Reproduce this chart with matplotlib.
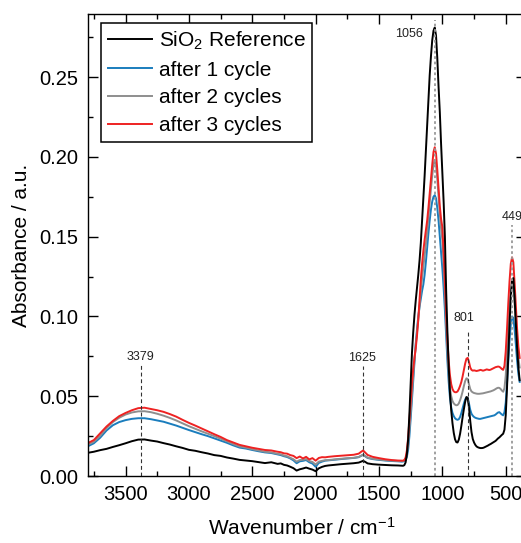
import numpy as np
import matplotlib
matplotlib.use("Agg")
import matplotlib.pyplot as plt
from matplotlib.ticker import MultipleLocator, FormatStrFormatter

plt.rcParams['font.family'] = ['Liberation Sans', 'DejaVu Sans']
plt.rcParams['mathtext.fontset'] = 'custom'
plt.rcParams['mathtext.rm'] = 'Liberation Sans'
plt.rcParams['mathtext.it'] = 'Liberation Sans:italic'
plt.rcParams['mathtext.default'] = 'regular'

# ---------------- data ----------------
wn_broad = [3800, 3750, 3700, 3650, 3600, 3550, 3500, 3450, 3400, 3350, 3300, 3250,
            3200, 3150, 3100, 3050, 3000, 2950, 2900, 2850, 2800, 2750, 2700, 2650,
            2600, 2550, 2500, 2450, 2400, 2350,
            2300, 2275, 2250, 2225, 2200, 2175, 2150, 2125, 2100, 2075, 2050, 2025,
            2000, 1975, 1950, 1925, 1900,
            1850, 1800, 1750, 1700, 1660, 1640, 1625, 1610, 1590,
            1550, 1500, 1450, 1400, 1350]
wn_band = list(range(1320, 385, -10))

ref_broad = [.0145, .0152, .0162, .0170, .0182, .0193, .0205, .0218, .0228, .0229, .0222, .0216,
             .0206, .0197, .0186, .0176, .0164, .0158, .0149, .0141, .0131, .0126, .0116, .0109,
             .0101, .0097, .0093, .0087, .0081, .0086,
             .0076, .0079, .0070, .0066, .0058, .0049, .0034, .0042, .0047, .0053, .0046, .0040,
             .0030, .0048, .0057, .0063, .0066,
             .0070, .0074, .0077, .0080, .0084, .0090, .0095, .0089, .0079,
             .0074, .0071, .0069, .0067, .0066]
c1_broad = [.0185, .0205, .0240, .0285, .0318, .0338, .0350, .0358, .0362, .0362, .0356, .0348,
            .0340, .0328, .0316, .0302, .0288, .0275, .0262, .0250, .0236, .0222, .0208, .0192,
            .0178, .0172, .0163, .0155, .0148, .0144,
            .0135, .0131, .0124, .0119, .0110, .0098, .0080, .0092, .0095, .0100, .0086, .0078,
            .0058, .0082, .0090, .0096, .0098,
            .0102, .0106, .0110, .0113, .0118, .0127, .0132, .0124, .0113,
            .0106, .0101, .0097, .0094, .0092]
c2_broad = [.0195, .0215, .0252, .0300, .0338, .0365, .0385, .0398, .0405, .0406, .0400, .0390,
            .0378, .0364, .0348, .0330, .0312, .0296, .0280, .0265, .0250, .0234, .0218, .0200,
            .0185, .0178, .0168, .0160, .0152, .0148,
            .0139, .0136, .0128, .0124, .0114, .0105, .0090, .0100, .0102, .0106, .0094, .0088,
            .0072, .0090, .0095, .0099, .0100,
            .0104, .0108, .0111, .0114, .0119, .0128, .0134, .0126, .0115,
            .0108, .0103, .0099, .0096, .0094]
c3_broad = [.0205, .0225, .0268, .0310, .0345, .0375, .0395, .0412, .0425, .0428, .0420, .0412,
            .0402, .0388, .0372, .0352, .0333, .0316, .0298, .0280, .0262, .0245, .0225, .0210,
            .0195, .0186, .0177, .0170, .0163, .0160,
            .0152, .0149, .0142, .0140, .0131, .0126, .0112, .0122, .0110, .0120, .0104, .0112,
            .0096, .0113, .0118, .0117, .0120,
            .0124, .0127, .0130, .0133, .0140, .0152, .0160, .0148, .0132,
            .0120, .0112, .0105, .0100, .0097]

ref_band = [.0064, .0064, .0068, .0085, .0135, .0230, .0390, .0580, .0770, .0900,
            .1010, .1100, .1180, .1260, .1350, .1460, .1600, .1740, .1880, .2040,
            .2210, .2370, .2510, .2630, .2730, .2790, .2810, .2760, .2620, .2440,
            .2280, .2080, .1900, .1720, .1500, .1160, .0900, .0690, .0520, .0410,
            .0330, .0270, .0230, .0212, .0210, .0228, .0265, .0315, .0370, .0420,
            .0465, .0495, .0490, .0430, .0345, .0275, .0232, .0210, .0195, .0185,
            .0180, .0177, .0175, .0175, .0176, .0179, .0183, .0187, .0191, .0196,
            .0200, .0205, .0210, .0215, .0220, .0228, .0236, .0242, .0250, .0258,
            .0265, .0290, .0380, .0550, .0750, .0950, .1120, .1230, .1240, .1120,
            .0950, .0800, .0680, .0600]
c1_band = [.0090, .0091, .0093, .0100, .0120, .0165, .0250, .0360, .0480, .0600,
           .0720, .0830, .0920, .1000, .1060, .1110, .1160, .1200, .1260, .1340,
           .1430, .1520, .1600, .1670, .1720, .1750, .1760, .1740, .1680, .1600,
           .1500, .1400, .1300, .1180, .1040, .0880, .0720, .0590, .0490, .0430,
           .0395, .0375, .0362, .0355, .0352, .0356, .0370, .0395, .0425, .0455,
           .0480, .0492, .0488, .0455, .0415, .0390, .0378, .0370, .0365, .0362,
           .0360, .0358, .0358, .0360, .0362, .0364, .0366, .0368, .0370, .0372,
           .0374, .0376, .0378, .0380, .0385, .0392, .0398, .0400, .0392, .0385,
           .0380, .0400, .0460, .0580, .0720, .0850, .0950, .1000, .0990, .0920,
           .0820, .0720, .0640, .0590]
c2_band = [.0094, .0094, .0097, .0108, .0140, .0200, .0290, .0400, .0520, .0630,
           .0730, .0820, .0900, .0980, .1070, .1160, .1240, .1310, .1380, .1450,
           .1530, .1620, .1710, .1800, .1880, .1950, .1980, .1950, .1860, .1750,
           .1640, .1550, .1480, .1330, .1150, .0950, .0780, .0640, .0550, .0500,
           .0470, .0455, .0447, .0443, .0445, .0455, .0475, .0500, .0530, .0565,
           .0595, .0612, .0608, .0575, .0545, .0530, .0524, .0520, .0518, .0516,
           .0515, .0515, .0516, .0517, .0518, .0520, .0522, .0524, .0526, .0528,
           .0530, .0533, .0536, .0540, .0545, .0550, .0553, .0552, .0545, .0535,
           .0528, .0550, .0630, .0770, .0920, .1060, .1160, .1200, .1180, .1080,
           .0950, .0830, .0740, .0680]
c3_band = [.0096, .0096, .0100, .0115, .0160, .0240, .0350, .0470, .0580, .0670,
           .0740, .0800, .0880, .0980, .1110, .1230, .1330, .1410, .1480, .1540,
           .1600, .1680, .1770, .1860, .1950, .2030, .2060, .2020, .1920, .1800,
           .1690, .1610, .1560, .1400, .1220, .1020, .0850, .0720, .0630, .0575,
           .0545, .0530, .0525, .0525, .0530, .0545, .0565, .0590, .0625, .0665,
           .0705, .0735, .0740, .0715, .0680, .0665, .0660, .0662, .0660, .0658,
           .0660, .0662, .0665, .0663, .0660, .0662, .0665, .0668, .0666, .0664,
           .0666, .0670, .0674, .0678, .0682, .0684, .0686, .0684, .0678, .0670,
           .0665, .0690, .0780, .0920, .1080, .1220, .1330, .1370, .1340, .1210,
           .1060, .0920, .0810, .0740]

series_labels = ['SiO$_2$ Reference', 'after 1 cycle', 'after 2 cycles', 'after 3 cycles']
series_colors = ['#000000', '#1a7dbd', '#8e8e8e', '#ee2222']

peak_pos = [3379, 1625, 1056, 801, 449]
peak_labels = ['3379', '1625', '1056', '801', '449']

# ---------------- figure ----------------
fig = plt.figure(figsize=(5.21, 5.43), dpi=100)
ax = fig.add_axes([87.5 / 521, 1 - 476 / 543, (526 - 87.5) / 521, (476 - 14) / 543])

wn = np.array(wn_broad + wn_band, dtype=float)
ys = [ref_broad + ref_band, c1_broad + c1_band, c2_broad + c2_band, c3_broad + c3_band]
order = [1, 2, 3, 0]
handles = [None] * 4
for i in order:
    h, = ax.plot(wn, ys[i], color=series_colors[i], lw=1.4, label=series_labels[i])
    handles[i] = h

ax.set_xlim(3800, 340)
ax.set_ylim(0, 0.2895)

# peak markers
dark = dict(color='#333333', lw=0.8, ls=(0, (3.5, 2.5)))
light = dict(color='#999999', lw=1.3, ls=(0, (1.5, 1.5)))
ax.plot([peak_pos[0]] * 2, [0, 0.0695], **dark)
ax.plot([peak_pos[1]] * 2, [0, 0.069], **dark)
ax.plot([peak_pos[3]] * 2, [0, 0.0915], **dark)
ax.plot([peak_pos[2]] * 2, [0, 0.286], **light)
ax.plot([peak_pos[4]] * 2, [0, 0.157], **light)

fs_ann = 9
ax.text(3379, 0.0747, peak_labels[0], ha='center', va='center', fontsize=fs_ann, color='#222222')
ax.text(1631, 0.0739, peak_labels[1], ha='center', va='center', fontsize=fs_ann, color='#222222')
ax.text(1150, 0.277, peak_labels[2], ha='right', va='center', fontsize=fs_ann, color='#222222')
ax.text(826, 0.099, peak_labels[3], ha='center', va='center', fontsize=fs_ann, color='#222222')
ax.text(450, 0.162, peak_labels[4], ha='center', va='center', fontsize=fs_ann, color='#222222')

# axes styling
ax.xaxis.set_major_locator(MultipleLocator(500))
ax.xaxis.set_minor_locator(MultipleLocator(250))
ax.yaxis.set_major_locator(MultipleLocator(0.05))
ax.yaxis.set_minor_locator(MultipleLocator(0.025))
ax.yaxis.set_major_formatter(FormatStrFormatter('%.2f'))
ax.tick_params(which='both', direction='in', top=True, right=True, width=1.0)
ax.tick_params(which='major', length=7, labelsize=14.5, pad=6.5)
ax.tick_params(which='minor', length=3.8)
for s in ax.spines.values():
    s.set_linewidth(1.0)

fig.text(22 / 521, 1 - 245 / 543, 'Absorbance / a.u.', rotation=90,
         ha='center', va='center', fontsize=15)
fig.text(302 / 521, 1 - 528 / 543, 'Wavenumber / cm$^{-1}$',
         ha='center', va='center', fontsize=15)

leg = ax.legend(handles=handles, loc='upper left', bbox_to_anchor=(0.031, 0.9805),
                borderaxespad=0, fontsize=15, frameon=True, fancybox=False,
                edgecolor='black', framealpha=1, handlelength=2.1,
                handletextpad=0.35, labelspacing=0.42, borderpad=0.32)
leg.get_frame().set_linewidth(1.1)

fig.savefig('out.png', dpi=100)
